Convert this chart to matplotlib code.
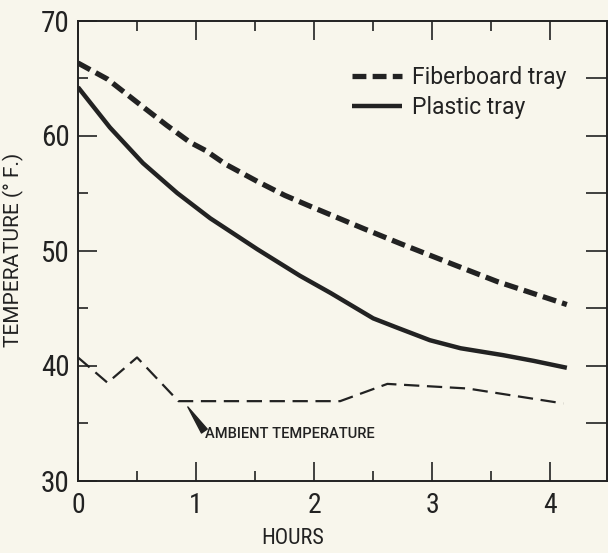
import matplotlib
matplotlib.use("Agg")
import matplotlib.pyplot as plt
from matplotlib.ticker import MultipleLocator

# ---- data ----
fiber_x = [0.0, 0.25, 0.53, 0.75, 0.95, 1.08, 1.25, 1.52, 1.75, 1.94, 2.42, 2.73, 3.15, 3.55, 4.14]
fiber_y = [66.3, 64.9, 62.65, 60.9, 59.4, 58.7, 57.5, 56.0, 54.8, 53.96, 51.9, 50.6, 48.9, 47.3, 45.3]

plastic_x = [0.0, 0.27, 0.55, 0.84, 1.12, 1.52, 1.88, 2.14, 2.5, 2.7, 2.98, 3.24, 3.6, 3.86, 4.14]
plastic_y = [64.2, 60.7, 57.6, 55.0, 52.8, 50.1, 47.8, 46.3, 44.1, 43.3, 42.2, 41.5, 40.9, 40.4, 39.8]

ambient_x = [0.0, 0.25, 0.5, 0.85, 2.22, 2.62, 3.3, 4.11]
ambient_y = [40.7, 38.5, 40.7, 36.9, 36.9, 38.4, 38.0, 36.7]

x_ticks = [0, 1, 2, 3, 4]
y_ticks = [30, 40, 50, 60, 70]
labels = ["Fiberboard tray", "Plastic tray"]
ambient_label = "AMBIENT TEMPERATURE"
x_label = "HOURS"
y_label = "TEMPERATURE (° F.)"

COND = ["Roboto Condensed", "DejaVu Sans"]
REG = ["Roboto", "DejaVu Sans"]
plt.rcParams["font.family"] = COND
plt.rcParams["lines.scale_dashes"] = False

BG = "#f8f6ec"
INK = "#222222"
W, H = 608, 553

fig = plt.figure(figsize=(W / 100, H / 100), dpi=100, facecolor=BG)
ax = fig.add_axes([78 / W, (H - 480.5) / H, 529 / W, 460 / H], facecolor=BG)

ax.plot(fiber_x, fiber_y, color=INK, lw=3.8, dashes=(10, 4.5), label=labels[0],
        solid_capstyle="butt", dash_capstyle="butt")
ax.plot(plastic_x, plastic_y, color=INK, lw=3.2, label=labels[1], solid_capstyle="butt",
        solid_joinstyle="round")
ax.plot(ambient_x, ambient_y, color=INK, lw=1.6, dashes=(11, 5.5))

ax.set_xlim(0, 4.48)
ax.set_ylim(30, 70)
ax.set_xticks(x_ticks)
ax.set_yticks(y_ticks)
ax.xaxis.set_minor_locator(MultipleLocator(0.5))
ax.yaxis.set_minor_locator(MultipleLocator(5))
ax.tick_params(which="major", direction="in", length=14, width=1.2, color=INK,
               top=True, right=False, labelsize=21, labelcolor=INK)
ax.tick_params(which="minor", direction="in", length=7, width=1.2, color=INK,
               top=True, right=False)
ax.tick_params(axis="x", which="major", pad=8, labelsize=20)
ax.tick_params(axis="y", which="major", pad=6)

# right-side ticks: all the same length
sec = ax.secondary_yaxis("right")
sec.set_yticks([35, 40, 45, 50, 55, 60, 65])
sec.tick_params(direction="in", length=15, width=1.2, color=INK, labelright=False)
sec.spines["right"].set_visible(False)

for s in ax.spines.values():
    s.set_color(INK)
    s.set_linewidth(1.4)

# axis labels
fig.text(13 / W, 1 - 250 / H, y_label, rotation=90, ha="center", va="center",
         fontsize=15, color=INK, family=REG)
fig.text(293 / W, 1 - 539 / H, x_label, ha="center", va="center",
         fontsize=16, color=INK)

# legend
leg = ax.legend(loc="upper left", bbox_to_anchor=(352 / W, 1 - 66 / H),
                bbox_transform=fig.transFigure, frameon=False,
                prop={"family": REG, "size": 16.5},
                handlelength=2.2, handletextpad=0.4, labelspacing=0.3,
                borderpad=0, borderaxespad=0)
for t in leg.get_texts():
    t.set_color(INK)

# ambient annotation
ax.annotate("", xy=(0.93, 36.4), xytext=(1.07, 34.3),
            arrowprops=dict(arrowstyle="wedge,tail_width=0.5", fc=INK, ec=INK,
                            shrinkA=0, shrinkB=0))
ax.text(1.075, 34.0, ambient_label, ha="left", va="center", fontsize=10.5,
        color=INK, fontweight="medium", family=REG)

fig.savefig("out.png", dpi=100, facecolor=BG)
